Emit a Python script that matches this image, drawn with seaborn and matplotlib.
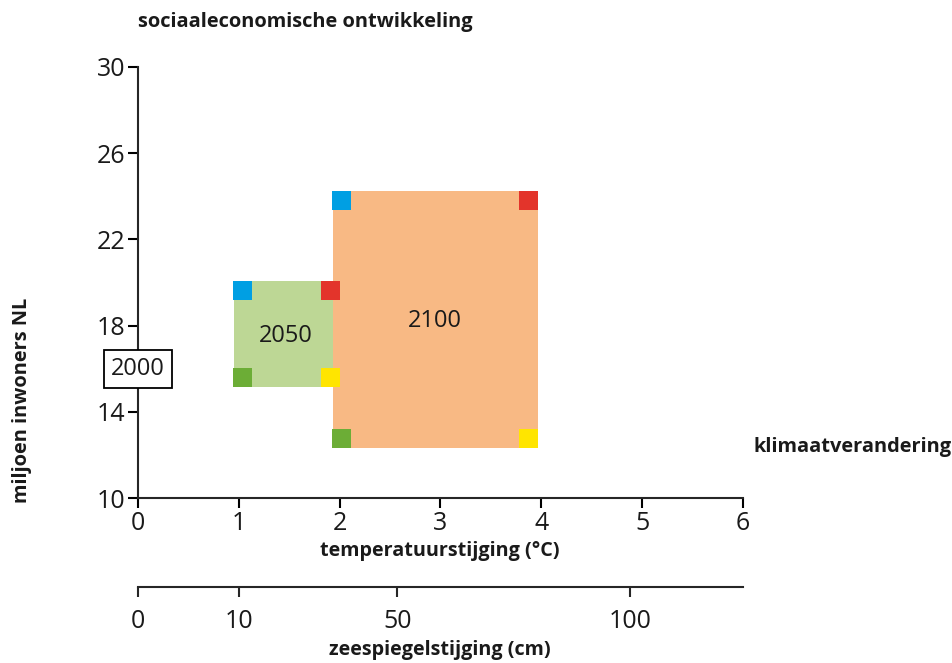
import matplotlib
matplotlib.use("Agg")
import matplotlib.pyplot as plt
from matplotlib.patches import Rectangle
import seaborn as sns
import pandas as pd

# ---- data ----
periods = ["2050", "2100"]
rect_x0 = [0.95, 1.93]
rect_x1 = [1.93, 3.97]
rect_y0 = [15.15, 12.33]
rect_y1 = [20.08, 24.23]
rect_colors = ["#BDD795", "#F8B984"]
label_x = [1.47, 2.94]
label_y = [17.5, 18.2]

# corner scenario markers (centres)
sq_x = [1.04, 1.91, 1.04, 1.91, 2.02, 3.87, 2.02, 3.87]
sq_y = [19.65, 19.65, 15.57, 15.57, 23.8, 23.8, 12.77, 12.77]
sq_kind = ["blauw", "rood", "groen", "geel", "blauw", "rood", "groen", "geel"]
sq_palette = {"blauw": "#009FE3", "rood": "#E3342B", "groen": "#6CAD36", "geel": "#FFE500"}

base_year = "2000"
base_x, base_y = 0.0, 16.0

x_ticks = [0, 1, 2, 3, 4, 5, 6]
y_ticks = [10, 14, 18, 22, 26, 30]
sea_tick_pos = [0, 1, 2.57, 4.88]
sea_tick_labels = ["0", "10", "50", "100"]

sns.set_style("ticks")
plt.rcParams["font.family"] = ["Open Sans", "DejaVu Sans"]

fig = plt.figure(figsize=(9.53, 6.63), dpi=100)
ax = fig.add_axes([138/953, 1 - 498/663, (743-138)/953, (498-67)/663])

for x0, x1, y0, y1, c in zip(rect_x0, rect_x1, rect_y0, rect_y1, rect_colors):
    ax.add_patch(Rectangle((x0, y0), x1 - x0, y1 - y0, facecolor=c, edgecolor="none", zorder=1))

df = pd.DataFrame({"x": sq_x, "y": sq_y, "kind": sq_kind})
sns.scatterplot(data=df, x="x", y="y", hue="kind", palette=sq_palette, marker="s",
                s=13.7**2, linewidth=0, legend=False, ax=ax, zorder=3)

for t, lx, ly in zip(periods, label_x, label_y):
    ax.text(lx, ly, t, ha="center", va="center", fontsize=17, color="#1a1a1a", zorder=4)

ax.text(base_x, base_y, base_year, ha="center", va="center", fontsize=17, color="#1a1a1a", zorder=5,
        bbox=dict(boxstyle="square,pad=0.3", facecolor="white", edgecolor="black", linewidth=1.3),
        clip_on=False)

ax.set_xlim(0, 6)
ax.set_ylim(10, 30)
ax.set_xticks(x_ticks)
ax.set_yticks(y_ticks)
ax.tick_params(axis="both", labelsize=18, length=7, width=1.5, color="black", labelcolor="#1a1a1a", pad=2)
for s in ["top", "right"]:
    ax.spines[s].set_visible(False)
for s in ["left", "bottom"]:
    ax.spines[s].set_linewidth(1.5)
ax.set_xlabel("")
ax.set_ylabel("")

# secondary sea-level axis
ax2 = ax.twiny()
ax2.set_xlim(0, 6)
ax2.xaxis.set_ticks_position("bottom")
ax2.xaxis.set_label_position("bottom")
ax2.spines["bottom"].set_position(("outward", 89 * 0.72))
for s in ["top", "right", "left"]:
    ax2.spines[s].set_visible(False)
ax2.spines["bottom"].set_linewidth(1.5)
ax2.set_xticks(sea_tick_pos)
ax2.set_xticklabels(sea_tick_labels)
ax2.tick_params(axis="x", labelsize=18, length=7, width=1.5, pad=9, labelcolor="#1a1a1a")

# labels
fig.text(138/953, 1 - 22/663, "sociaaleconomische ontwikkeling", ha="left", va="center",
         fontsize=14.4, fontweight="bold", color="#1a1a1a")
fig.text(22/953, 1 - 400/663, "miljoen inwoners NL", ha="center", va="center", rotation=90,
         fontsize=14.4, fontweight="bold", color="#1a1a1a")
fig.text(754/953, 1 - 447/663, "klimaatverandering", ha="left", va="center",
         fontsize=14.4, fontweight="bold", color="#1a1a1a")
fig.text(440/953, 1 - 551/663, "temperatuurstijging (°C)", ha="center", va="center",
         fontsize=14.2, fontweight="bold", color="#1a1a1a")
fig.text(440/953, 1 - 650/663, "zeespiegelstijging (cm)", ha="center", va="center",
         fontsize=14.2, fontweight="bold", color="#1a1a1a")

fig.savefig("out.png", dpi=100)
